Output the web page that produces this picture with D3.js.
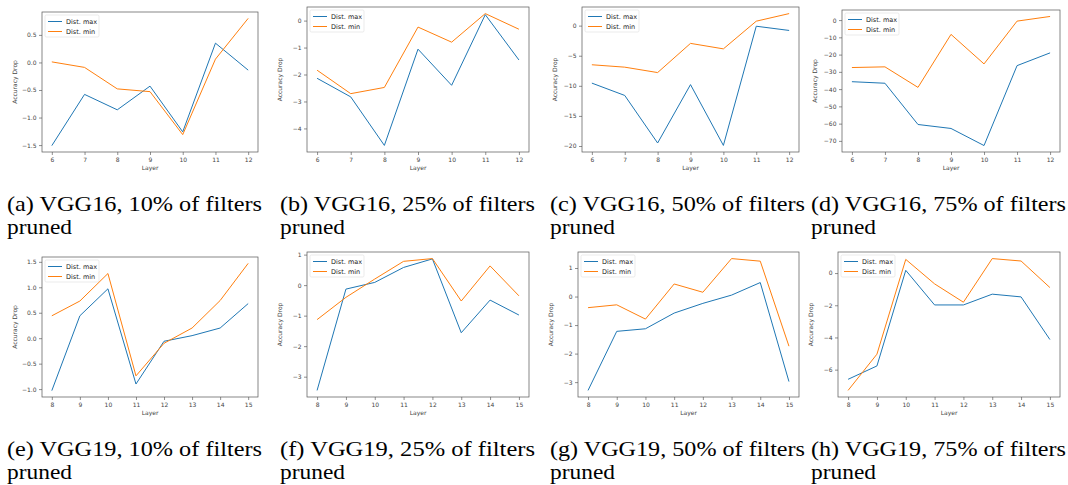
<!DOCTYPE html>
<html>
<head>
<meta charset="utf-8">
<script src="https://cdn.jsdelivr.net/npm/d3@7"></script>
<style>
  body { margin: 0; background: #fff; }
  svg { display: block; }
</style>
</head>
<body>
<div id="chart"></div>
<script>
// Layers on the x axis
const layersVGG16 = [6, 7, 8, 9, 10, 11, 12]
const layersVGG19 = [8, 9, 10, 11, 12, 13, 14, 15]

// Accuracy drop per layer
const vgg16p10Max = [-1.51, -0.58, -0.86, -0.43, -1.26, 0.35, -0.14]
const vgg16p10Min = [0.01, -0.09, -0.48, -0.53, -1.31, 0.06, 0.80]
const vgg16p25Max = [-2.14, -2.83, -4.63, -1.06, -2.40, 0.22, -1.46]
const vgg16p25Min = [-1.84, -2.71, -2.48, -0.24, -0.80, 0.26, -0.32]
const vgg16p50Max = [-9.55, -11.6, -19.5, -9.8, -19.9, -0.1, -0.8]
const vgg16p50Min = [-6.5, -6.9, -7.8, -2.95, -3.86, 0.74, 2.0]
const vgg16p75Max = [-35.7, -36.6, -60.5, -62.8, -72.7, -26.4, -19.0]
const vgg16p75Min = [-27.5, -27.1, -39.0, -8.3, -25.4, -0.6, 2.1]

const vgg19p10Max = [-1.03, 0.44, 0.97, -0.90, -0.06, 0.05, 0.20, 0.68]
const vgg19p10Min = [0.44, 0.73, 1.27, -0.74, -0.10, 0.20, 0.74, 1.47]
const vgg19p25Max = [-3.45, -0.13, 0.09, 0.58, 0.86, -1.56, -0.49, -0.98]
const vgg19p25Min = [-1.13, -0.40, 0.20, 0.78, 0.87, -0.52, 0.63, -0.35]
const vgg19p50Max = [-3.29, -1.22, -1.13, -0.58, -0.24, 0.05, 0.49, -2.98]
const vgg19p50Min = [-0.39, -0.29, -0.79, 0.44, 0.15, 1.33, 1.24, -1.74]
const vgg19p75Max = [-6.60, -5.77, 0.17, -1.98, -1.98, -1.31, -1.48, -4.13]
const vgg19p75Min = [-7.29, -5.04, 0.85, -0.67, -1.81, 0.90, 0.75, -0.90]

// Y tick values per panel
const ticksA = [-1.5, -1.0, -0.5, 0.0, 0.5]
const ticksB = [-4, -3, -2, -1, 0]
const ticksC = [-20, -15, -10, -5, 0]
const ticksD = [-70, -60, -50, -40, -30, -20, -10, 0]
const ticksE = [-1.0, -0.5, 0.0, 0.5, 1.0, 1.5]
const ticksF = [-3, -2, -1, 0, 1]
const ticksG = [-3, -2, -1, 0, 1]
const ticksH = [-6, -4, -2, 0]

const seriesNames = ['Dist. max', 'Dist. min']
const captions = [
  ['(a) VGG16, 10% of filters', 'pruned'],
  ['(b) VGG16, 25% of filters', 'pruned'],
  ['(c) VGG16, 50% of filters', 'pruned'],
  ['(d) VGG16, 75% of filters', 'pruned'],
  ['(e) VGG19, 10% of filters', 'pruned'],
  ['(f) VGG19, 25% of filters', 'pruned'],
  ['(g) VGG19, 50% of filters', 'pruned'],
  ['(h) VGG19, 75% of filters', 'pruned']
]

const panels = [
  { layers: layersVGG16, max: vgg16p10Max, min: vgg16p10Min, ticks: ticksA, fmt: '.1f' },
  { layers: layersVGG16, max: vgg16p25Max, min: vgg16p25Min, ticks: ticksB, fmt: 'd' },
  { layers: layersVGG16, max: vgg16p50Max, min: vgg16p50Min, ticks: ticksC, fmt: 'd' },
  { layers: layersVGG16, max: vgg16p75Max, min: vgg16p75Min, ticks: ticksD, fmt: 'd' },
  { layers: layersVGG19, max: vgg19p10Max, min: vgg19p10Min, ticks: ticksE, fmt: '.1f' },
  { layers: layersVGG19, max: vgg19p25Max, min: vgg19p25Min, ticks: ticksF, fmt: 'd' },
  { layers: layersVGG19, max: vgg19p50Max, min: vgg19p50Min, ticks: ticksG, fmt: 'd' },
  { layers: layersVGG19, max: vgg19p75Max, min: vgg19p75Min, ticks: ticksH, fmt: 'd' }
]

// Frame rectangles of each axes (left, top, right, bottom) in page pixels
const frames = [
  [42, 12, 258, 152], [307, 7, 529, 152], [582, 7, 799, 152], [842, 10, 1060, 152],
  [42, 257, 258, 397], [307, 252, 529, 397], [578, 252, 799, 397], [838, 252, 1060, 397]
]
const captionX = [7, 280, 550, 811, 7, 280, 550, 811]
const captionY = [211, 456]

const colors = ['#1f77b4', '#ff7f0e']
const tickColor = '#444'
const fontSans = 'DejaVu Sans, sans-serif'

const svg = d3.select('#chart').append('svg')
  .attr('width', 1068)
  .attr('height', 485)

const minus = s => s.replace('-', '\u2212')

panels.forEach((p, i) => {
  const [l, t, r, b] = frames[i]
  const g = svg.append('g')

  // matplotlib-style 5% margins around the data
  const xExt = d3.extent(p.layers)
  const xPad = (xExt[1] - xExt[0]) * 0.05
  const x = d3.scaleLinear().domain([xExt[0] - xPad, xExt[1] + xPad]).range([l, r])
  const yExt = d3.extent(p.max.concat(p.min))
  const yPad = (yExt[1] - yExt[0]) * 0.05
  const y = d3.scaleLinear().domain([yExt[0] - yPad, yExt[1] + yPad]).range([b, t])

  const xAxis = g.append('g')
    .attr('transform', `translate(0,${b})`)
    .call(d3.axisBottom(x).tickValues(p.layers).tickFormat(d3.format('d')).tickSize(3).tickPadding(2.5))
  const yAxis = g.append('g')
    .attr('transform', `translate(${l},0)`)
    .call(d3.axisLeft(y).tickValues(p.ticks).tickFormat(d => minus(d3.format(p.fmt)(d))).tickSize(3).tickPadding(2.5))

  for (const ax of [xAxis, yAxis]) {
    ax.select('.domain').remove()
    ax.selectAll('line').attr('stroke', tickColor).attr('stroke-width', 0.6)
    ax.selectAll('text').attr('fill', tickColor).attr('font-size', 6).attr('font-family', fontSans)
  }

  // Axis titles
  g.append('text')
    .attr('x', (l + r) / 2)
    .attr('y', b + 18)
    .attr('text-anchor', 'middle')
    .attr('font-size', 6)
    .attr('font-family', fontSans)
    .attr('fill', tickColor)
    .text('Layer')
  g.append('text')
    .attr('transform', `translate(${l - 25},${(t + b) / 2}) rotate(-90)`)
    .attr('text-anchor', 'middle')
    .attr('font-size', 6)
    .attr('font-family', fontSans)
    .attr('fill', tickColor)
    .text('Accuracy Drop')

  // Lines
  const line = d3.line()
    .x((d, k) => x(p.layers[k]))
    .y(d => y(d))
  ;[p.max, p.min].forEach((vals, k) => {
    g.append('path')
      .attr('d', line(vals))
      .attr('fill', 'none')
      .attr('stroke', colors[k])
      .attr('stroke-width', 1)
  })

  // Frame
  g.append('rect')
    .attr('x', l).attr('y', t)
    .attr('width', r - l).attr('height', b - t)
    .attr('fill', 'none')
    .attr('stroke', '#555')
    .attr('stroke-width', 0.7)

  // Legend
  const lg = g.append('g').attr('transform', `translate(${l + 3},${t + 3})`)
  lg.append('rect')
    .attr('width', 54).attr('height', 22)
    .attr('rx', 1.5)
    .attr('fill', '#fff')
    .attr('stroke', '#ddd')
    .attr('stroke-width', 0.6)
  seriesNames.forEach((name, k) => {
    const yy = 6.5 + k * 10
    lg.append('line')
      .attr('x1', 3).attr('x2', 17)
      .attr('y1', yy).attr('y2', yy)
      .attr('stroke', colors[k])
      .attr('stroke-width', 1)
    lg.append('text')
      .attr('x', 21).attr('y', yy + 2.2)
      .attr('font-size', 6.5)
      .attr('font-family', fontSans)
      .attr('fill', '#222')
      .text(name)
  })

  // Caption
  const cap = svg.append('text')
    .attr('x', captionX[i])
    .attr('y', captionY[Math.floor(i / 4)])
    .attr('font-size', 22)
    .attr('font-family', 'Liberation Serif, serif')
    .attr('fill', '#000')
  cap.append('tspan').attr('x', captionX[i])
    .attr('textLength', 255).attr('lengthAdjust', 'spacingAndGlyphs')
    .text(captions[i][0])
  cap.append('tspan').attr('x', captionX[i]).attr('dy', 23)
    .attr('textLength', 65).attr('lengthAdjust', 'spacingAndGlyphs')
    .text(captions[i][1])
})
</script>
</body>
</html>
